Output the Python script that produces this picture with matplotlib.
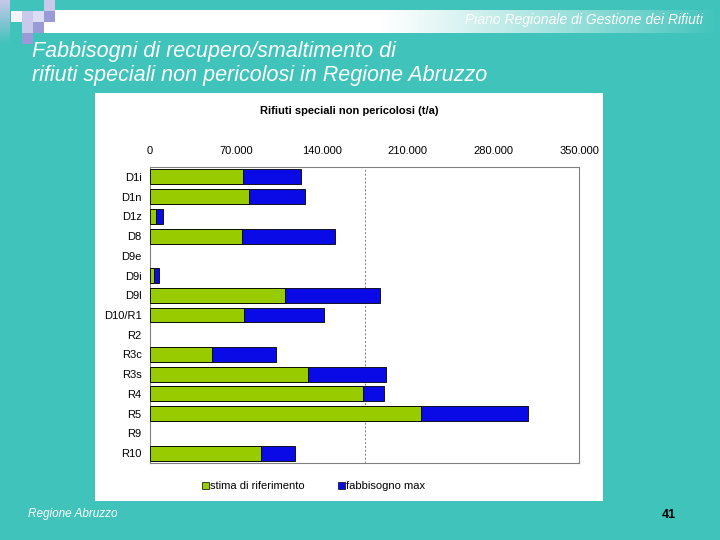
import numpy as np
import matplotlib
matplotlib.use("Agg")
import matplotlib.pyplot as plt
from matplotlib.patches import Rectangle

plt.rcParams['font.family'] = ['Liberation Sans', 'DejaVu Sans']

categories = ['D1i', 'D1n', 'D1z', 'D8', 'D9e', 'D9i', 'D9l', 'D10/R1',
              'R2', 'R3c', 'R3s', 'R4', 'R5', 'R9', 'R10']
stima = [75600, 81000, 5200, 75300, 0, 3300, 110400, 76400,
         0, 50600, 129200, 173500, 220800, 0, 90300]
fabb_max = [123500, 126200, 10300, 150700, 0, 7100, 187400, 141700,
            0, 102500, 192300, 190600, 308100, 0, 118000]
xticks = [0, 70000, 140000, 210000, 280000, 350000]
xticklabels = ['0', '70.000', '140.000', '210.000', '280.000', '350.000']

teal = '#40C3BB'
green = '#99CC00'
blue = '#0A0AE6'

fig = plt.figure(figsize=(7.2, 5.4), dpi=100, facecolor=teal)

# slide background in pixel coords
bg = fig.add_axes([0, 0, 1, 1])
bg.set_xlim(0, 720)
bg.set_ylim(540, 0)
bg.axis('off')

# header gradient bar
grad = np.linspace(0, 1, 256)
tc = np.array(matplotlib.colors.to_rgb(teal))
w = np.clip((grad - 0.5) / 0.5, 0, 1) ** 1.1
img = (1 - w)[:, None] * np.ones(3) + w[:, None] * tc
bg.imshow(img[None, :, :], extent=(44, 720, 33, 10), aspect='auto')

# decorative squares
lav = '#C9C9EC'
pur = '#9A9AD6'
vstrip = np.linspace(0, 1, 64)
simg = (1 - vstrip)[:, None] * np.array(matplotlib.colors.to_rgb('#C8C8EA')) + vstrip[:, None] * tc
bg.imshow(simg[:, None, :], extent=(0, 10, 44, 0), aspect='auto')
for (x, y, c) in [(44, 0, lav), (11, 11, '#F4F4FA'), (22, 11, lav), (33, 11, '#DCDCF2'),
                  (44, 11, pur), (22, 22, lav), (33, 22, pur), (22, 33, pur)]:
    bg.add_patch(Rectangle((x, y), 11, 11, color=c, lw=0))

# white chart panel
bg.add_patch(Rectangle((95, 93), 508, 408, facecolor='white', edgecolor='none'))

bg.text(703, 20, 'Piano Regionale di Gestione dei Rifiuti', color='white',
        fontsize=10, style='italic', ha='right', va='center')
bg.text(32, 52, 'Fabbisogni di recupero/smaltimento di', color='white',
        fontsize=15.5, style='italic', ha='left', va='center')
bg.text(32, 76, 'rifiuti speciali non pericolosi in Regione Abruzzo', color='white',
        fontsize=15.5, style='italic', ha='left', va='center')
bg.text(28, 514, 'Regione Abruzzo', color='white', fontsize=8.5,
        style='italic', ha='left', va='center')
bg.text(669, 515, '41', color='black', fontsize=9, fontweight='bold',
        ha='center', va='center')

bg.text(349, 111, 'Rifiuti speciali non pericolosi (t/a)', fontsize=8,
        fontweight='bold', ha='center', va='center')

# chart
ax = fig.add_axes([150 / 720, 1 - 463 / 540, 429 / 720, 296 / 540])
y = np.arange(len(categories))
lw_max = [0.6 if v > 0 else 0 for v in fabb_max]
lw_st = [0.6 if v > 0 else 0 for v in stima]
ax.barh(y, fabb_max, height=0.76, color=blue, edgecolor='black', linewidth=lw_max,
        label='fabbisogno max', zorder=2)
ax.barh(y, stima, height=0.76, color=green, edgecolor='black', linewidth=lw_st,
        label='stima di riferimento', zorder=3)
ax.axvline(175000, color='#808080', ls=(0, (2, 2)), lw=0.7, zorder=1)
ax.set_xlim(0, 350000)
ax.set_ylim(len(categories) - 0.5, -0.5)
ax.set_yticks(y)
ax.set_yticklabels(categories)
ax.set_xticks(xticks)
ax.set_xticklabels(xticklabels)
ax.xaxis.tick_top()
ax.tick_params(axis='both', length=0, labelsize=8)
ax.tick_params(axis='x', pad=8)
ax.tick_params(axis='y', pad=6)
for s in ax.spines.values():
    s.set_color('#808080')
    s.set_linewidth(0.8)

# legend
bg.add_patch(Rectangle((202, 482), 7, 7, facecolor=green, edgecolor='black', lw=0.5))
bg.text(210, 486, 'stima di riferimento', fontsize=8, ha='left', va='center')
bg.add_patch(Rectangle((338, 482), 7, 7, facecolor=blue, edgecolor='black', lw=0.5))
bg.text(346, 486, 'fabbisogno max', fontsize=8, ha='left', va='center')

fig.savefig('out.png', dpi=100, facecolor=teal)
